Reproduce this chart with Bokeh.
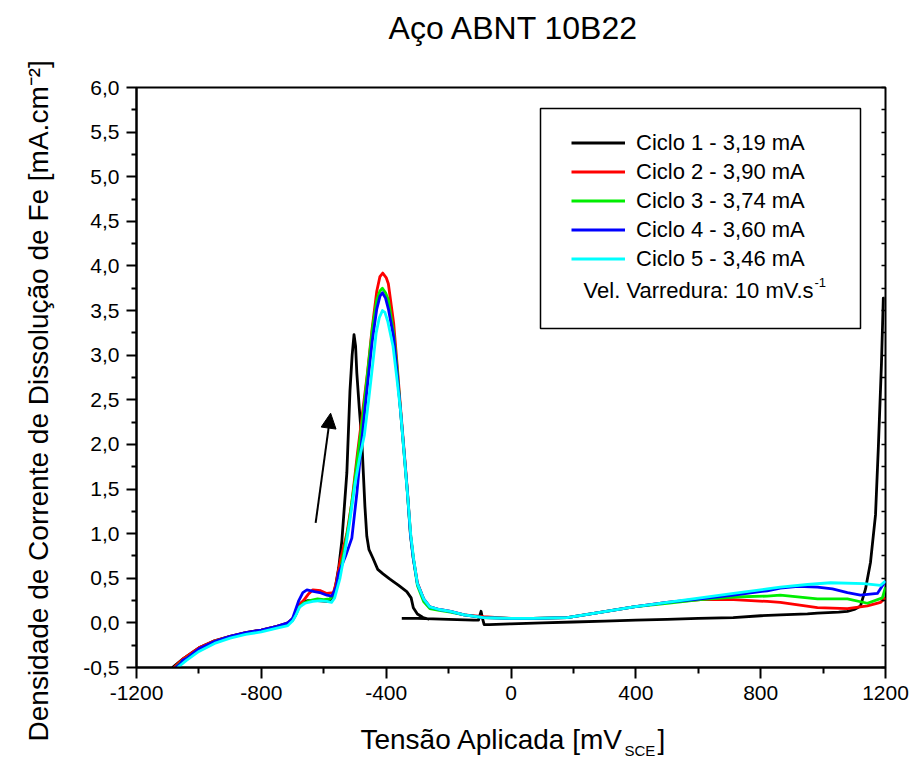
import math
from bokeh.plotting import figure
from bokeh.models import (FixedTicker, CustomJSTickFormatter, Label, BoxAnnotation,
                          Legend, LegendItem, Arrow, NormalHead, Range1d, LinearAxis)
from bokeh.embed import file_html
from bokeh.resources import INLINE

NaN = float("nan")

# ---------------- data ----------------
title_text = "Aço ABNT 10B22"
x_ticks = [-1200, -800, -400, 0, 400, 800, 1200]
x_minor = [-1000, -600, -200, 200, 600, 1000]
y_ticks = [-0.5, 0.0, 0.5, 1.0, 1.5, 2.0, 2.5, 3.0, 3.5, 4.0, 4.5, 5.0, 5.5, 6.0]
y_minor = [-0.25 + 0.5 * i for i in range(13)]

labels = ["Ciclo 1 - 3,19 mA", "Ciclo 2 - 3,90 mA", "Ciclo 3 - 3,74 mA",
          "Ciclo 4 - 3,60 mA", "Ciclo 5 - 3,46 mA"]
colors = ["#000000", "#ff0000", "#00ee00", "#0000ff", "#00ffff"]

# Ciclo 1 (two branches separated by NaN)
c1_x = [-1085, -1050, -1000, -950, -900, -850, -800, -750, -720, -700, -690, -680, -670,
        -650, -620, -590, -575, -563, -552, -542, -526, -516, -509, -503, -498, -494,
        -486, -478, -468, -462, -455, -443, -427, -410, -388, -360, -334, -320, -313,
        -300, -282, -262,
        NaN,
        -350, -300, -200, -120, -104, -100, -96, -92, -86, -70, 0, 100, 200, 300, 400,
        500, 600, 712, 800, 863, 950, 982, 1050, 1078, 1100, 1120, 1136, 1152, 1168,
        1177, 1187, 1193, 1197]
c1_y = [-0.5, -0.4, -0.28, -0.2, -0.15, -0.11, -0.08, -0.04, -0.01, 0.03, 0.09, 0.18,
        0.23, 0.25, 0.25, 0.24, 0.25, 0.40, 0.62, 0.92, 1.68, 2.6, 3.0, 3.23, 3.1, 2.8,
        2.4, 2.04, 1.3, 0.97, 0.82, 0.73, 0.6, 0.55, 0.49, 0.42, 0.35, 0.28, 0.17,
        0.1, 0.06, 0.04,
        NaN,
        0.05, 0.05, 0.04, 0.03, 0.03, 0.08, 0.13, 0.06, -0.02, -0.02, -0.01, 0.0, 0.01,
        0.02, 0.03, 0.04, 0.05, 0.06, 0.08, 0.09, 0.1, 0.11, 0.12, 0.13, 0.15, 0.19,
        0.38, 0.68, 1.21, 1.96, 2.9, 3.64, 3.64]

# Ciclo 2
c2_x = [-1080, -1050, -1000, -950, -900, -850, -800, -750, -715, -700, -690, -680, -665,
        -650, -635, -610, -590, -569, -560, -547, -526, -510, -492, -476, -460, -445,
        -430, -420, -411, -400, -393, -376, -365, -354, -343, -332, -322, -313, -300,
        -280, -260, -230, -194, -150, -88, 0, 71, 180, 290, 393, 500, 607, 713, 821,
        863, 982, 1078, 1142, 1184, 1200]
c2_y = [-0.5, -0.4, -0.28, -0.2, -0.15, -0.11, -0.08, -0.04, 0.0, 0.05, 0.1, 0.2, 0.25,
        0.32, 0.37, 0.36, 0.33, 0.34, 0.45, 0.7, 1.0, 1.35, 1.9, 2.35, 2.8, 3.3, 3.72,
        3.88, 3.92, 3.87, 3.8, 3.36, 2.9, 2.41, 1.95, 1.48, 1.0, 0.73, 0.45, 0.27, 0.18,
        0.15, 0.13, 0.09, 0.07, 0.05, 0.05, 0.06, 0.12, 0.18, 0.23, 0.26, 0.26, 0.24,
        0.23, 0.17, 0.16, 0.19, 0.23, 0.28]

# Ciclo 3
c3_x = [-1075, -1050, -1000, -950, -900, -850, -800, -750, -715, -700, -690, -680, -665,
        -645, -620, -600, -580, -565, -552, -536, -520, -504, -488, -472, -458, -444,
        -430, -420, -412, -402, -393, -376, -365, -354, -343, -332, -322, -313, -300,
        -280, -260, -230, -194, -150, -88, 0, 71, 180, 290, 393, 500, 607, 713, 821,
        863, 982, 1078, 1142, 1190, 1200]
c3_y = [-0.5, -0.42, -0.3, -0.21, -0.16, -0.12, -0.09, -0.05, -0.01, 0.04, 0.09, 0.17,
        0.22, 0.25, 0.27, 0.26, 0.27, 0.33, 0.5, 0.78, 1.1, 1.5, 1.95, 2.4, 2.85, 3.3,
        3.62, 3.72, 3.75, 3.7, 3.62, 3.25, 2.85, 2.38, 1.92, 1.46, 0.98, 0.72, 0.42,
        0.24, 0.16, 0.14, 0.12, 0.09, 0.06, 0.05, 0.05, 0.06, 0.12, 0.18, 0.22, 0.26,
        0.29, 0.3, 0.31, 0.27, 0.27, 0.22, 0.28, 0.4]

# Ciclo 4
c4_x = [-1075, -1060, -1052, -1040, -1000, -950, -900, -850, -800, -750, -715, -700,
        -690, -680, -667, -654, -630, -613, -590, -574, -560, -552, -530, -510, -494,
        -478, -462, -445, -430, -420, -412, -402, -393, -376, -365, -354, -343, -332,
        -322, -313, -300, -280, -260, -230, -194, -150, -88, 0, 71, 180, 290, 393, 500,
        607, 713, 821, 863, 920, 982, 1030, 1078, 1120, 1174, 1200]
c4_y = [-0.5, -0.46, -0.42, -0.4, -0.29, -0.21, -0.15, -0.11, -0.08, -0.04, 0.0, 0.05,
        0.15, 0.25, 0.34, 0.37, 0.35, 0.34, 0.31, 0.3, 0.4, 0.56, 0.75, 0.95, 1.45,
        2.05, 2.6, 3.15, 3.52, 3.66, 3.7, 3.64, 3.52, 3.2, 2.8, 2.38, 1.93, 1.47, 0.98,
        0.72, 0.44, 0.27, 0.18, 0.15, 0.13, 0.09, 0.06, 0.05, 0.05, 0.06, 0.12, 0.18,
        0.23, 0.27, 0.31, 0.36, 0.39, 0.41, 0.40, 0.38, 0.34, 0.31, 0.33, 0.47]

# Ciclo 5
c5_x = [-1068, -1040, -1000, -950, -900, -850, -800, -750, -715, -700, -690, -677, -660,
        -635, -610, -590, -575, -565, -548, -532, -516, -500, -485, -470, -456, -443,
        -432, -422, -412, -404, -395, -378, -366, -354, -343, -332, -321, -312, -300,
        -280, -260, -230, -194, -150, -88, 0, 71, 180, 290, 393, 500, 607, 713, 821,
        863, 950, 1024, 1130, 1184, 1200]
c5_y = [-0.5, -0.42, -0.32, -0.23, -0.17, -0.13, -0.1, -0.06, -0.03, 0.02, 0.08, 0.18,
        0.22, 0.24, 0.25, 0.24, 0.23, 0.28, 0.5, 0.8, 1.15, 1.55, 1.85, 2.1, 2.5, 2.9,
        3.25, 3.42, 3.5, 3.48, 3.38, 3.1, 2.75, 2.38, 1.92, 1.46, 0.98, 0.72, 0.44,
        0.27, 0.18, 0.15, 0.13, 0.09, 0.06, 0.05, 0.05, 0.06, 0.12, 0.18, 0.23, 0.28,
        0.33, 0.38, 0.40, 0.43, 0.45, 0.44, 0.42, 0.47]

series_x = [c1_x, c2_x, c3_x, c4_x, c5_x]
series_y = [c1_y, c2_y, c3_y, c4_y, c5_y]

# arrow annotation (data units): start and tip
arrow_start = (-626, 1.12)
arrow_end = (-578, 2.35)

# ---------------- layout helpers ----------------
FONT = "Liberation Sans"
W, H = 911, 760
FL, FR, FT, FB = 136, 885, 87, 667          # frame edges in page pixels
X0, X1, Y0, Y1 = -1200, 1200, -0.5, 6.0


def PX(px):
    return X0 + (px - FL) * (X1 - X0) / (FR - FL)


def PY(py):
    return Y1 - (py - FT) * (Y1 - Y0) / (FB - FT)


p = figure(width=W, height=H, output_backend="svg", toolbar_location=None,
           x_range=Range1d(X0, X1), y_range=Range1d(Y0, Y1),
           min_border_left=FL, min_border_right=W - FR,
           min_border_top=FT, min_border_bottom=H - FB)
p.background_fill_color = "white"
p.border_fill_color = "white"
p.outline_line_color = "black"
p.outline_line_width = 2
p.xgrid.visible = False
p.ygrid.visible = False

xax = p.xaxis[0]
yax = p.yaxis[0]
for ax in (xax, yax):
    ax.axis_line_width = 2
    ax.major_tick_line_width = 2
    ax.minor_tick_line_width = 2
    ax.major_tick_in = 0
    ax.minor_tick_in = 0
    ax.major_label_text_font = FONT
    ax.major_label_text_font_size = "21px"
    ax.major_label_text_color = "black"

xax.ticker = FixedTicker(ticks=x_ticks, minor_ticks=x_minor)
yax.ticker = FixedTicker(ticks=y_ticks, minor_ticks=y_minor)
xax.formatter = CustomJSTickFormatter(code="return tick.toFixed(0);")
yax.formatter = CustomJSTickFormatter(code="return tick.toFixed(1).replace('.', ',');")
xax.major_tick_out = 11
xax.minor_tick_out = 6
yax.major_tick_out = 10
yax.minor_tick_out = 5
xax.major_label_standoff = 7
yax.major_label_standoff = 7

# y-axis title (rotated by the axis itself)
yax.axis_label = "Densidade de Corrente de Dissolução de Fe [mA.cm\u207b\u00b2]" + " " * 6
yax.axis_label_text_font = FONT
yax.axis_label_text_font_size = "28px"
yax.axis_label_text_font_style = "normal"
yax.axis_label_text_color = "black"
yax.axis_label_standoff = 26

# small inward ticks on the right frame edge (no labels)
right_ax = LinearAxis(ticker=FixedTicker(ticks=sorted(y_ticks + y_minor), minor_ticks=[]),
                      formatter=CustomJSTickFormatter(code="return '';"),
                      axis_line_color=None, major_tick_in=4, major_tick_out=0,
                      major_tick_line_width=1.5, minor_tick_line_color=None,
                      major_label_standoff=0, major_label_text_font_size="1px",
                      axis_label=None)
p.add_layout(right_ax, "right")

renderers = []
for xs, ys, c in zip(series_x, series_y, colors):
    r = p.line(xs, ys, line_color=c, line_width=2.8, line_join="round")
    renderers.append(r)

# legend box
p.add_layout(BoxAnnotation(left=PX(540), right=PX(860), top=PY(108), bottom=PY(328),
                           fill_color="white", fill_alpha=1.0, line_color="black",
                           line_alpha=1.0, line_width=1.5, level="annotation"))

legend = Legend(items=[LegendItem(label=l, renderers=[r]) for l, r in zip(labels, renderers)],
                location=(571 - FL, FB - 273), padding=0, margin=0, spacing=0,
                glyph_width=54, glyph_height=29, label_height=29, label_standoff=11,
                label_text_font=FONT, label_text_font_size="22px",
                label_text_color="black",
                border_line_color=None, background_fill_alpha=0)
p.add_layout(legend)


def lab(text, px, py, size, align="left", place=None):
    # py is the wanted baseline; the renderer puts the baseline about 0.36 em lower
    l = Label(x=PX(px), y=PY(py - 0.36 * size), text=text, text_font=FONT,
              text_font_size=f"{size}px", text_align=align, text_baseline="alphabetic",
              text_color="black")
    if place is None:
        p.add_layout(l)
    else:
        p.add_layout(l, place)


# scan-rate note with superscript (inside the frame)
lab("Vel. Varredura: 10 mV.s", 813, 298, 22, align="right")
lab("-1", 814, 287, 13)

# title (side panel, so it is not clipped to the frame)
lab(title_text, 513.5, 39, 32, align="center", place="above")
lab("SCE", 624, 755, 15, place="above")

# x-axis label with subscript
lab("Tensão Aplicada [mV", 623, 749, 28, align="right", place="below")
lab("]", 657, 749, 28, place="right")

# arrow
p.add_layout(Arrow(x_start=arrow_start[0], y_start=arrow_start[1],
                   x_end=arrow_end[0], y_end=arrow_end[1], line_width=2,
                   line_color="black",
                   end=NormalHead(size=15, fill_color="black", line_color="black")))

open("out.html", "w").write(file_html(p, INLINE))
